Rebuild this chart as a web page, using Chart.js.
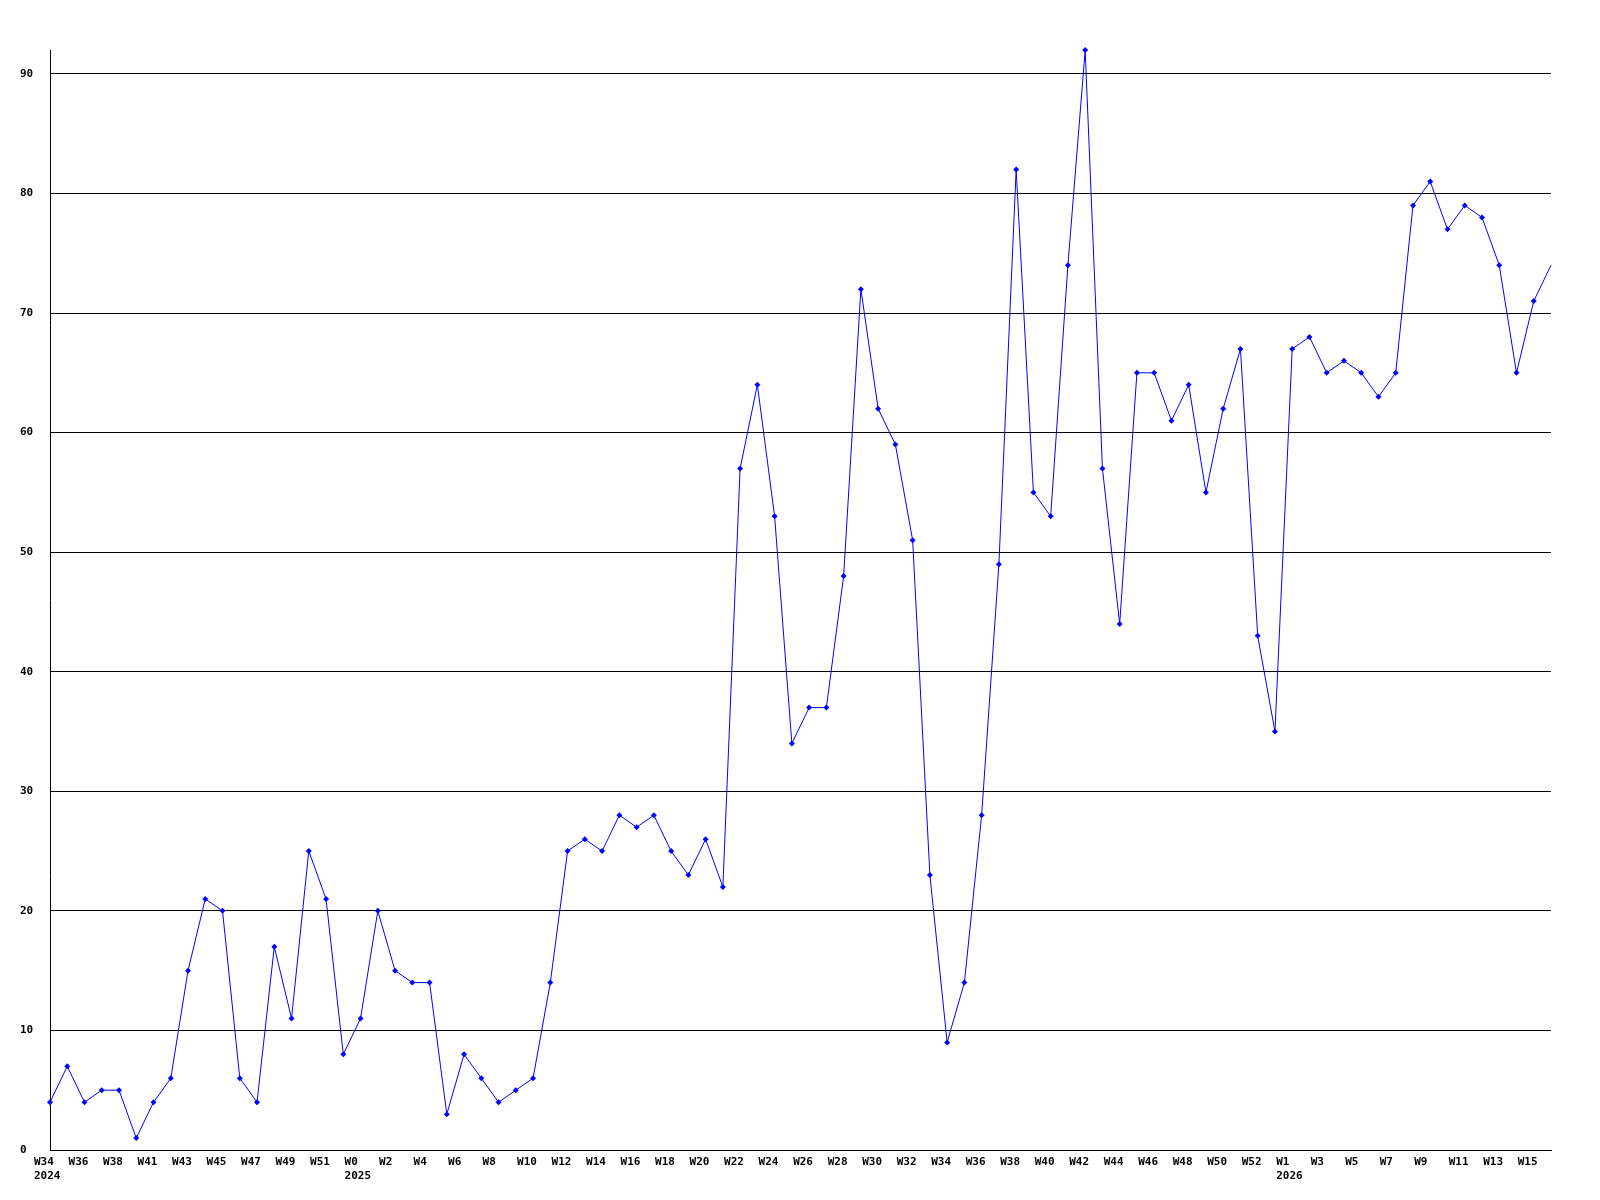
<!DOCTYPE html>
<html>
<head>
<meta charset="utf-8">
<script src="https://cdn.jsdelivr.net/npm/chart.js@4/dist/chart.umd.min.js"></script>
<style>
  html, body { margin: 0; padding: 0; background: #ffffff; }
  #wrap { width: 1600px; height: 1200px; }
</style>
</head>
<body>
<div id="wrap"><canvas id="c" width="1600" height="1200"></canvas></div>
<script>
// Week categories (year-week)
const weeks = [
  '2024-W34','2024-W35','2024-W36','2024-W37','2024-W38','2024-W39','2024-W41','2024-W42','2024-W43','2024-W44',
  '2024-W45','2024-W46','2024-W47','2024-W48','2024-W49','2024-W50','2024-W51','2024-W52',
  '2025-W0','2025-W1','2025-W2','2025-W3','2025-W4','2025-W5','2025-W6','2025-W7','2025-W8','2025-W9',
  '2025-W10','2025-W11','2025-W12','2025-W13','2025-W14','2025-W15','2025-W16','2025-W17','2025-W18','2025-W19',
  '2025-W20','2025-W21','2025-W22','2025-W23','2025-W24','2025-W25','2025-W26','2025-W27','2025-W28','2025-W29',
  '2025-W30','2025-W31','2025-W32','2025-W33','2025-W34','2025-W35','2025-W36','2025-W37','2025-W38','2025-W39',
  '2025-W40','2025-W41','2025-W42','2025-W43','2025-W44','2025-W45','2025-W46','2025-W47','2025-W48','2025-W49',
  '2025-W50','2025-W51','2025-W52',
  '2026-W0','2026-W1','2026-W2','2026-W3','2026-W4','2026-W5','2026-W6','2026-W7','2026-W8','2026-W9',
  '2026-W10','2026-W11','2026-W12','2026-W13','2026-W14','2026-W15','2026-W16'
];

// Weekly counts
const counts = [
  4, 7, 4, 5, 5, 1, 4, 6, 15, 21,
  20, 6, 4, 17, 11, 25, 21, 8, 11, 20,
  15, 14, 14, 3, 8, 6, 4, 5, 6, 14,
  25, 26, 25, 28, 27, 28, 25, 23, 26, 22,
  57, 64, 53, 34, 37, 37, 48, 72, 62, 59,
  51, 23, 9, 14, 28, 49, 82, 55, 53, 74,
  92, 57, 44, 65, 65, 61, 64, 55, 62, 67,
  43, 35, 67, 68, 65, 66, 65, 63, 65, 79,
  81, 77, 79, 78, 74, 65, 71, 74
];

// Y axis range and tick step
const yMin = 0;
const yMax = 92;
const yStep = 10;

// Build the displayed tick labels: every other week, year on the first shown label of each year
const tickText = [];
const seenYears = {};
weeks.forEach(function (w, i) {
  const parts = w.split('-');
  if (i % 2 !== 0) { tickText.push(''); return; }
  if (!seenYears[parts[0]]) {
    seenYears[parts[0]] = true;
    tickText.push([parts[1], parts[0]]);
  } else {
    tickText.push(parts[1]);
  }
});

const tickFont = { family: '"DejaVu Sans Mono", "Liberation Mono", monospace', size: 11, weight: 'bold', lineHeight: 1.3 };

new Chart(document.getElementById('c'), {
  type: 'line',
  data: {
    labels: weeks,
    datasets: [{
      data: counts,
      borderColor: '#0000ff',
      backgroundColor: '#0000ff',
      borderWidth: 1,
      tension: 0,
      fill: false,
      clip: false,
      pointStyle: 'rectRot',
      pointRadius: function (ctx) { return ctx.dataIndex === counts.length - 1 ? 0 : 3; },
      pointBorderWidth: 0,
      pointBackgroundColor: '#0000ff'
    }]
  },
  options: {
    responsive: false,
    devicePixelRatio: 1,
    animation: false,
    events: [],
    layout: { padding: { left: 20, top: 50, right: 49, bottom: 0 } },
    plugins: { legend: { display: false }, tooltip: { enabled: false } },
    scales: {
      x: {
        type: 'category',
        offset: false,
        grid: { display: false, drawTicks: false },
        border: { display: true, color: '#000000', width: 1 },
        ticks: {
          autoSkip: false,
          maxRotation: 0,
          minRotation: 0,
          align: 'start',
          labelOffset: -16,
          padding: 5,
          color: '#000000',
          font: tickFont,
          callback: function (value, index) { return tickText[index]; }
        },
        afterFit: function (scale) { scale.height = 50; }
      },
      y: {
        min: yMin,
        max: yMax,
        grid: { color: '#000000', lineWidth: 1, drawTicks: false },
        border: { display: true, color: '#000000', width: 1 },
        ticks: {
          stepSize: yStep,
          includeBounds: false,
          crossAlign: 'far',
          padding: 0,
          color: '#000000',
          font: tickFont
        },
        afterFit: function (scale) { scale.width = 30; }
      }
    }
  }
});
</script>
</body>
</html>
